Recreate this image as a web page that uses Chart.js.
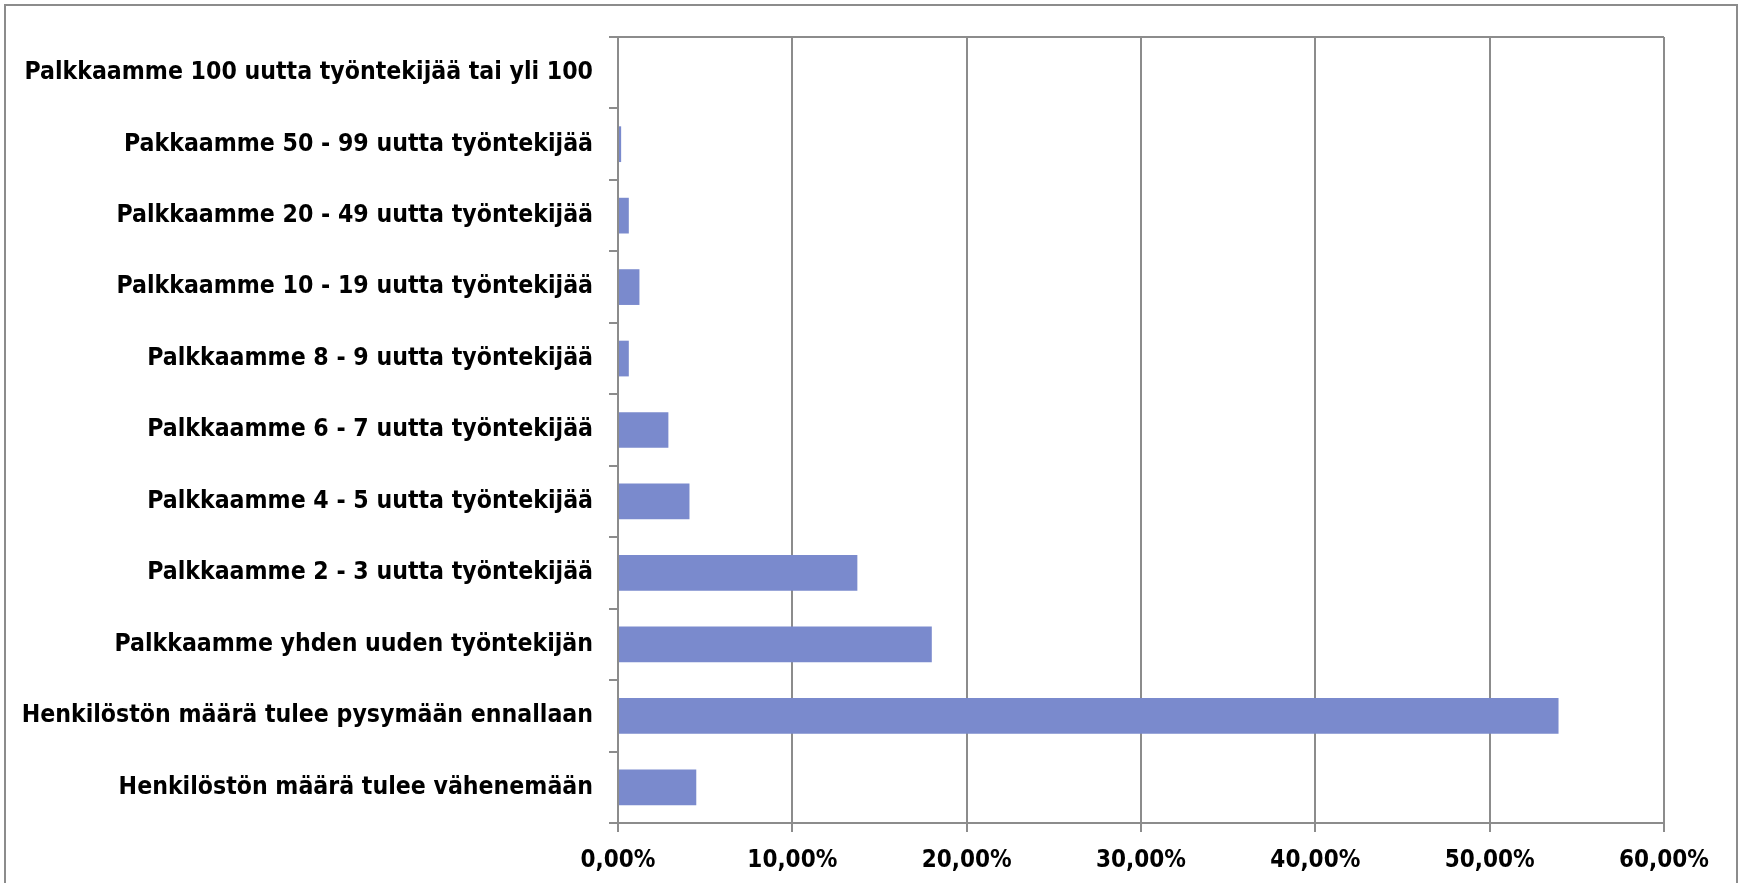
<!DOCTYPE html>
<html><head><meta charset="utf-8">
<script src="https://cdn.jsdelivr.net/npm/chart.js@4/dist/chart.umd.min.js"></script>
<style>html,body{margin:0;padding:0;background:#fff;overflow:hidden}#wrap{position:relative;width:1742px;height:883px}</style>
</head><body><div id="wrap"><canvas id="c" width="1742" height="883"></canvas></div>
<script>
const categories = [
  'Palkkaamme 100 uutta työntekijää tai yli 100',
  'Pakkaamme 50 - 99 uutta työntekijää',
  'Palkkaamme 20 - 49 uutta työntekijää',
  'Palkkaamme 10 - 19 uutta työntekijää',
  'Palkkaamme 8 - 9 uutta työntekijää',
  'Palkkaamme 6 - 7 uutta työntekijää',
  'Palkkaamme 4 - 5 uutta työntekijää',
  'Palkkaamme 2 - 3 uutta työntekijää',
  'Palkkaamme yhden uuden työntekijän',
  'Henkilöstön määrä tulee pysymään ennallaan',
  'Henkilöstön määrä tulee vähenemään'
];
const values = [0, 0.18, 0.62, 1.23, 0.62, 2.89, 4.1, 13.73, 18.0, 53.95, 4.49];
const xTickLabels = ['0,00%', '10,00%', '20,00%', '30,00%', '40,00%', '50,00%', '60,00%'];

const GRAY = '#8c8c8c';
const FONT = "'DejaVu Sans Condensed', 'DejaVu Sans', sans-serif";

const frame = {
  id: 'frame',
  beforeDraw(chart) {
    const c = chart.ctx;
    c.save();
    c.fillStyle = '#fff';
    c.fillRect(0, 0, chart.width, chart.height);
    c.strokeStyle = GRAY;
    c.lineWidth = 2;
    c.strokeRect(5, 5, chart.width - 10, chart.height + 20);
    c.restore();
  }
};

new Chart(document.getElementById('c'), {
  type: 'bar',
  data: {
    labels: categories,
    datasets: [{
      data: values,
      backgroundColor: '#7a8acd',
      borderWidth: 0,
      barPercentage: 0.5,
      categoryPercentage: 1
    }]
  },
  options: {
    indexAxis: 'y',
    responsive: false,
    devicePixelRatio: 1,
    animation: false,
    layout: { padding: { left: 0, right: 78, top: 37, bottom: 0 } },
    plugins: { legend: { display: false }, tooltip: { enabled: false } },
    scales: {
      x: {
        min: 0, max: 60,
        ticks: {
          stepSize: 10,
          color: '#000',
          padding: 14,
          font: { family: FONT, size: 24, weight: 'bold' },
          callback: (v, i) => xTickLabels[i]
        },
        grid: { color: GRAY, lineWidth: 2, tickLength: 9, drawOnChartArea: true },
        border: { display: true, color: GRAY, width: 2 },
        afterFit(s) { s.height = 60; }
      },
      y: {
        ticks: {
          color: '#000',
          padding: 16,
          font: { family: FONT, size: 24.6, weight: 'bold' }
        },
        grid: {
          offset: true,
          color: (ctx) => ctx.index === 0 ? GRAY : 'transparent',
          tickColor: GRAY,
          lineWidth: 2,
          tickLength: 9
        },
        border: { display: true, color: GRAY, width: 2 },
        afterFit(s) { s.width = 618; }
      }
    }
  },
  plugins: [frame]
});
</script></body></html>
